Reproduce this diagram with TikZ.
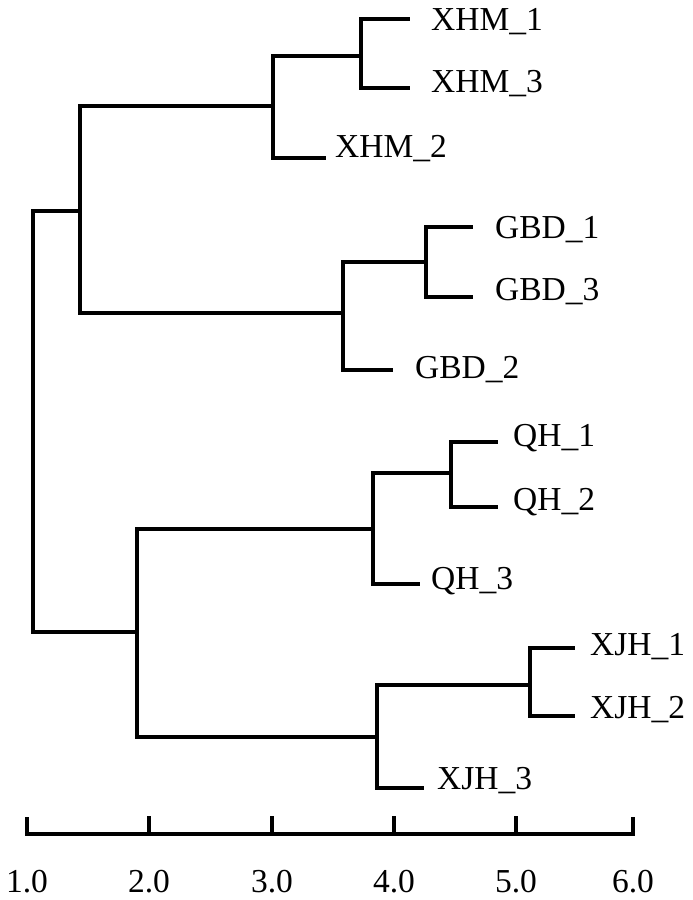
\documentclass[tikz,border=0pt]{standalone}
\usepackage{fontspec}
\setmainfont{Liberation Serif}
\begin{document}
\begin{tikzpicture}[x=1pt,y=-1pt,
  branch/.style={line width=3.3pt, line join=miter},
  axisline/.style={line width=3.3pt, line join=miter},
  leaf/.style={anchor=base west, inner sep=0pt, font=\fontsize{33.5}{40}\selectfont},
  ticklabel/.style={anchor=base, inner sep=0pt, font=\fontsize{33.5}{40}\selectfont}]
\useasboundingbox (0,0) rectangle (693,900);

% internal nodes (x of the node, y where its parent attaches)
\coordinate (root)  at (33,421);
\coordinate (A)     at (80,211);
\coordinate (XHM)   at (273,106);
\coordinate (XHM13) at (361,56);
\coordinate (GBD)   at (343,313);
\coordinate (GBD13) at (426,262);
\coordinate (B)     at (137,632);
\coordinate (QH)    at (373,529);
\coordinate (QH12)  at (451,473);
\coordinate (XJH)   at (377,737);
\coordinate (XJH12) at (530,685);

% leaf branch ends
\coordinate (eXHM1) at (410,19);
\coordinate (eXHM3) at (410,88);
\coordinate (eXHM2) at (326,158);
\coordinate (eGBD1) at (473,227);
\coordinate (eGBD3) at (473,297);
\coordinate (eGBD2) at (393,370);
\coordinate (eQH1)  at (498,442);
\coordinate (eQH2)  at (498,507);
\coordinate (eQH3)  at (420,584);
\coordinate (eXJH1) at (575,648);
\coordinate (eXJH2) at (575,716);
\coordinate (eXJH3) at (424,788);

% labels
\node[leaf] (lXHM1) at (431,30)  {XHM\_1};
\node[leaf] (lXHM3) at (431,92)  {XHM\_3};
\node[leaf] (lXHM2) at (335,157) {XHM\_2};
\node[leaf] (lGBD1) at (495,238) {GBD\_1};
\node[leaf] (lGBD3) at (495,300) {GBD\_3};
\node[leaf] (lGBD2) at (415,378) {GBD\_2};
\node[leaf] (lQH1)  at (513,446) {QH\_1};
\node[leaf] (lQH2)  at (513,510) {QH\_2};
\node[leaf] (lQH3)  at (431,589) {QH\_3};
\node[leaf] (lXJH1) at (590,655) {XJH\_1};
\node[leaf] (lXJH2) at (590,718) {XJH\_2};
\node[leaf] (lXJH3) at (437,789) {XJH\_3};

% tree
\draw[branch] (root) |- (A);
\draw[branch] (root) |- (B);
\draw[branch] (A) |- (XHM);
\draw[branch] (A) |- (GBD);
\draw[branch] (XHM) |- (XHM13);
\draw[branch] (XHM) |- (eXHM2);
\draw[branch] (XHM13) |- (eXHM1);
\draw[branch] (XHM13) |- (eXHM3);
\draw[branch] (GBD) |- (GBD13);
\draw[branch] (GBD) |- (eGBD2);
\draw[branch] (GBD13) |- (eGBD1);
\draw[branch] (GBD13) |- (eGBD3);
\draw[branch] (B) |- (QH);
\draw[branch] (B) |- (XJH);
\draw[branch] (QH) |- (QH12);
\draw[branch] (QH) |- (eQH3);
\draw[branch] (QH12) |- (eQH1);
\draw[branch] (QH12) |- (eQH2);
\draw[branch] (XJH) |- (XJH12);
\draw[branch] (XJH) |- (eXJH3);
\draw[branch] (XJH12) |- (eXJH1);
\draw[branch] (XJH12) |- (eXJH2);

% axis
\coordinate (t1) at (27,834);
\coordinate (t2) at (149,834);
\coordinate (t3) at (272,834);
\coordinate (t4) at (394,834);
\coordinate (t5) at (516,834);
\coordinate (t6) at (633,834);
\draw[axisline] ([yshift=17pt]t1) -- (t1) -- (t6) -- ([yshift=17pt]t6);
\foreach \t in {t2,t3,t4,t5}
  \draw[axisline] (\t) -- ([yshift=18pt]\t);
\node[ticklabel] (n1) at (27,892)  {1.0};
\node[ticklabel] (n2) at (149,892) {2.0};
\node[ticklabel] (n3) at (272,892) {3.0};
\node[ticklabel] (n4) at (394,892) {4.0};
\node[ticklabel] (n5) at (516,892) {5.0};
\node[ticklabel] (n6) at (633,892) {6.0};
\end{tikzpicture}
\end{document}
